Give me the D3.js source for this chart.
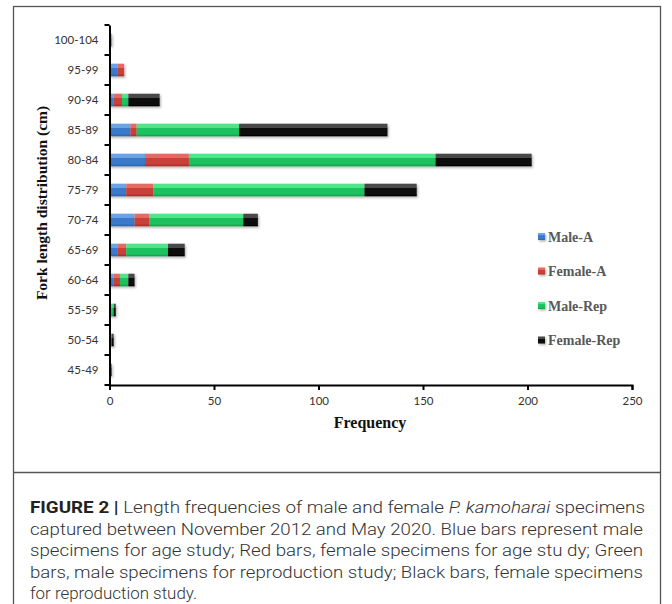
<!DOCTYPE html>
<html><head><meta charset="utf-8">
<script src="https://cdn.jsdelivr.net/npm/d3@7"></script>
<style>body{margin:0;background:#fff}</style></head>
<body>
<svg id="c" width="672" height="604"></svg>
<script>
const categories = ["45-49","50-54","55-59","60-64","65-69","70-74","75-79","80-84","85-89","90-94","95-99","100-104"];
const maleA     = [0,1,0,2,4,12,8,17,10,2,4,0];
const femaleA   = [0,0,1,3,4,7,13,21,3,4,3,1];
const maleRep   = [0,0,1,4,20,45,101,118,49,3,0,0];
const femaleRep = [1,1,1,3,8,7,25,46,71,15,0,0];
const seriesNames = ["Male-A","Female-A","Male-Rep","Female-Rep"];
const xTicks = [0,50,100,150,200,250];
const captionLines = [
  [{t:"FIGURE 2 |",w:"bold"},{t:" Length frequencies of male and female "},{t:"P. kamoharai",i:1},{t:" specimens"}],
  [{t:"captured between November 2012 and May 2020. Blue bars represent male"}],
  [{t:"specimens for age study; Red bars, female specimens for age stu dy; Green"}],
  [{t:"bars, male specimens for reproduction study; Black bars, female specimens"}],
  [{t:"for reproduction study."}]
];

const svg = d3.select("#c");
const colors = [
  ["#6aa3e6","#3b7acb","#2a5fa6"],
  ["#e56a64","#c9403a","#9e2a26"],
  ["#4fe68a","#1fc25e","#0f9a44"],
  ["#4a4a4a","#0c0c0c","#000000"]
];
const defs = svg.append("defs");
colors.forEach((c,i)=>{
  const g = defs.append("linearGradient").attr("id","g"+i).attr("x1",0).attr("x2",0).attr("y1",0).attr("y2",1);
  g.append("stop").attr("offset","0%").attr("stop-color",c[0]);
  g.append("stop").attr("offset","30%").attr("stop-color",c[0]);
  g.append("stop").attr("offset","36%").attr("stop-color",c[1]);
  g.append("stop").attr("offset","80%").attr("stop-color",c[1]);
  g.append("stop").attr("offset","100%").attr("stop-color",c[2]);
});
const f = defs.append("filter").attr("id","sh").attr("x","-10%").attr("y","-30%").attr("width","130%").attr("height","180%");
f.append("feDropShadow").attr("dx",1.2).attr("dy",1.5).attr("stdDeviation",0.9).attr("flood-color","#000").attr("flood-opacity",0.3);

// frames
svg.append("rect").attr("x",13.5).attr("y",6.5).attr("width",647).attr("height",640)
  .attr("fill","none").attr("stroke","#555").attr("stroke-width",1.3);
svg.append("line").attr("x1",13.5).attr("x2",660.5).attr("y1",472.5).attr("y2",472.5)
  .attr("stroke","#555").attr("stroke-width",1.3);

const x = d3.scaleLinear().domain([0,250]).range([109.5,632]);
const y = d3.scaleBand().domain(categories.slice().reverse()).range([25,385]).paddingInner(0.58).paddingOuter(0.29);

const data = categories.map((c,i)=>({cat:c,"Male-A":maleA[i],"Female-A":femaleA[i],"Male-Rep":maleRep[i],"Female-Rep":femaleRep[i]}));
const stack = d3.stack().keys(seriesNames)(data);

const bars = svg.append("g");
stack.forEach((s,si)=>{
  bars.append("g").attr("filter","url(#sh)").selectAll("rect").data(s.filter(d=>d[1]>d[0])).join("rect")
    .attr("x",d=>x(d[0])).attr("width",d=>x(d[1])-x(d[0]))
    .attr("y",d=>y(d.data.cat)).attr("height",y.bandwidth())
    .attr("fill","url(#g"+si+")");
});

// axes
const yAxis = svg.append("g").attr("transform","translate(109.5,0)")
  .call(d3.axisLeft(y).tickSize(0).tickPadding(11));
yAxis.select(".domain").attr("stroke","#000").attr("stroke-width",2);
yAxis.selectAll("text").attr("font-family","Lato, 'Open Sans', sans-serif").attr("font-size",11.5).attr("fill","#333");
const bounds = d3.range(categories.length+1).map(i=>25+i*30);
yAxis.selectAll("line.b").data(bounds).join("line").attr("class","b")
  .attr("x1",-5).attr("x2",0).attr("y1",d=>d).attr("y2",d=>d).attr("stroke","#000").attr("stroke-width",2);

const xAxis = svg.append("g").attr("transform","translate(0,385)")
  .call(d3.axisBottom(x).tickValues(xTicks).tickSize(5).tickPadding(7));
xAxis.select(".domain").attr("stroke","#000").attr("stroke-width",2);
xAxis.selectAll(".tick line").attr("stroke","#000").attr("stroke-width",2);
xAxis.selectAll("text").attr("font-family","Lato, 'Open Sans', sans-serif").attr("font-size",11.5).attr("fill","#333");

svg.append("text").attr("x",370).attr("y",428).attr("text-anchor","middle")
  .attr("font-family","'Liberation Serif', 'Times New Roman', serif").attr("font-weight","bold").attr("font-size",16)
  .attr("fill","#111").text("Frequency");
svg.append("text").attr("transform","translate(47,203) rotate(-90)").attr("text-anchor","middle")
  .attr("font-family","'Liberation Serif', 'Times New Roman', serif").attr("font-weight","bold").attr("font-size",15.5)
  .attr("fill","#111").text("Fork length distribution (cm)");

// legend
const lg = svg.append("g").attr("transform","translate(538,237)");
seriesNames.forEach((n,i)=>{
  const r = lg.append("g").attr("transform",`translate(0,${i*34.5})`);
  r.append("rect").attr("x",0).attr("y",-4).attr("width",7).attr("height",7).attr("fill","url(#g"+i+")").attr("filter","url(#sh)");
  r.append("text").attr("x",10).attr("y",4.5).attr("font-family","'Liberation Serif', serif").attr("font-weight","bold")
    .attr("font-size",14).attr("fill","#595959").text(n);
});

// caption
const widths = [615,613,613,613,167];
captionLines.forEach((parts,li)=>{
  const t = svg.append("text").attr("x",30).attr("y",513+li*21.5)
    .attr("font-family","Roboto, 'Liberation Sans', sans-serif").attr("font-size",16.5).attr("fill","#333")
    .attr("textLength",widths[li]).attr("lengthAdjust","spacingAndGlyphs");
  parts.forEach(p=>{
    const ts = t.append("tspan").text(p.t).attr("font-weight",p.w||300);
    if(p.i) ts.attr("font-style","italic");
    if(p.w) ts.attr("fill","#222");
  });
});
</script>
</body></html>
